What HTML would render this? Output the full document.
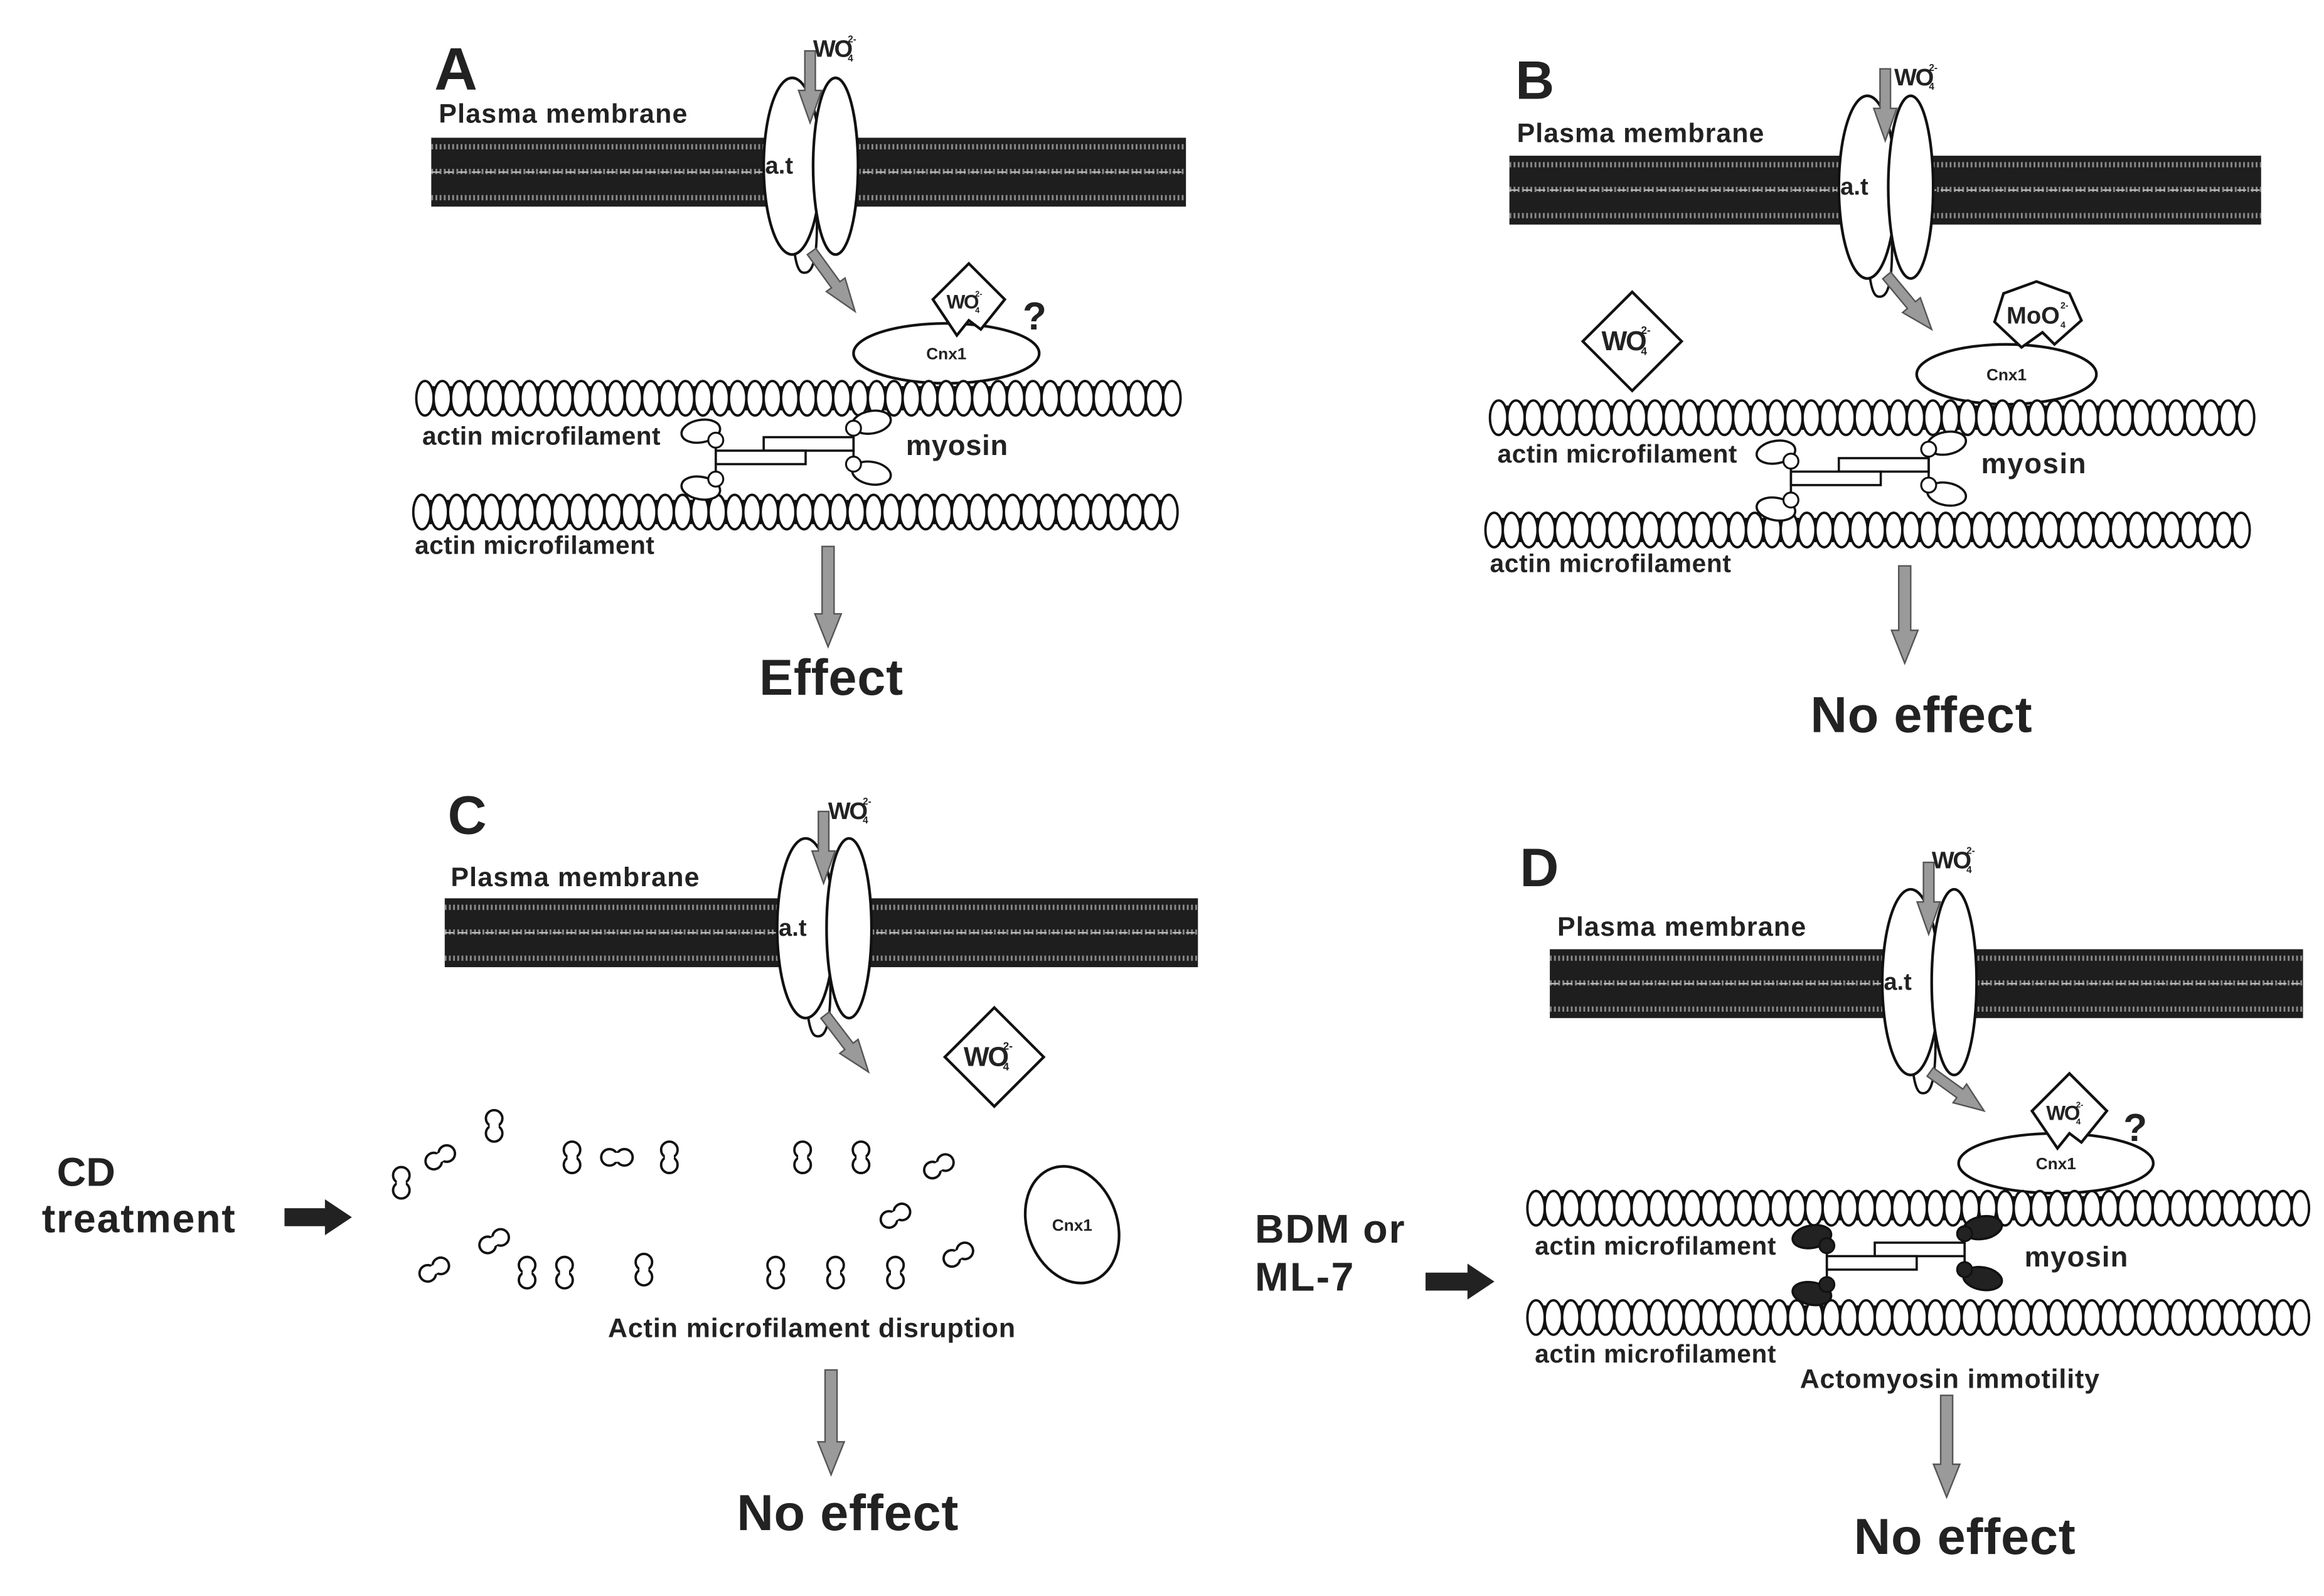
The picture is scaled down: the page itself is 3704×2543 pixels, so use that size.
<!DOCTYPE html>
<html><head><meta charset="utf-8">
<style>
html,body{margin:0;padding:0;background:#fff;}
svg{display:block;}
text{font-family:"Liberation Sans",Arial,sans-serif;font-weight:bold;fill:#222;}
</style></head>
<body>
<svg id="s" width="3704" height="2543" viewBox="0 0 1552 1066" preserveAspectRatio="none" xmlns="http://www.w3.org/2000/svg">
<rect width="1552" height="1066" fill="#fff"/>
<g id="g"></g>
<text x="290" y="60" font-size="40">A</text>
<text x="293" y="82" font-size="18" textLength="166">Plasma membrane</text>
<text x="282" y="297" font-size="17" textLength="159">actin microfilament</text>
<text x="277" y="370" font-size="17" textLength="160">actin microfilament</text>
<text x="605" y="304" font-size="19" textLength="68">myosin</text>
<text x="507" y="464" font-size="34" textLength="96">Effect</text>

<text x="1012" y="66" font-size="36">B</text>
<text x="1013" y="95" font-size="18" textLength="165">Plasma membrane</text>
<text x="1000" y="309" font-size="17" textLength="160">actin microfilament</text>
<text x="995" y="382" font-size="17" textLength="161">actin microfilament</text>
<text x="1323" y="316" font-size="19" textLength="70">myosin</text>
<text x="1209" y="489" font-size="34" textLength="148">No effect</text>

<text x="299" y="557" font-size="36">C</text>
<text x="301" y="592" font-size="18" textLength="166">Plasma membrane</text>
<text x="406" y="893" font-size="18" textLength="272">Actin microfilament disruption</text>
<text x="492" y="1022" font-size="34" textLength="148">No effect</text>
<text x="38" y="792" font-size="27">CD</text>
<text x="28" y="823" font-size="27" textLength="129">treatment</text>

<text x="1015" y="592" font-size="36">D</text>
<text x="1040" y="625" font-size="18" textLength="166">Plasma membrane</text>
<text x="1025" y="838" font-size="17" textLength="161">actin microfilament</text>
<text x="1025" y="910" font-size="17" textLength="161">actin microfilament</text>
<text x="1352" y="846" font-size="19" textLength="69">myosin</text>
<text x="1202" y="927" font-size="18" textLength="200">Actomyosin immotility</text>
<text x="1238" y="1038" font-size="34" textLength="148">No effect</text>
<text x="838" y="830" font-size="27" textLength="100">BDM or</text>
<text x="838" y="862" font-size="27" textLength="66">ML-7</text>
</svg>
<script>
var NS="http://www.w3.org/2000/svg",G=document.getElementById('g'),S=document.getElementById('s');
function el(t,a,p){var e=document.createElementNS(NS,t);for(var k in a)e.setAttribute(k,a[k]);(p||G).appendChild(e);return e;}
function txt(x,y,s,size,extra){var e=el('text',Object.assign({x:x,y:y,'font-size':size},extra||{}),S);e.textContent=s;return e;}
function membrane(x1,x2,y){
 el('rect',{x:x1,y:y,width:x2-x1,height:46,fill:'#1e1e1e'});
 [6,22.5,40].forEach(function(d){el('line',{x1:x1,x2:x2,y1:y+d,y2:y+d,stroke:'#8a8a8a','stroke-width':3.5,'stroke-dasharray':'1.2 1.6'});});
 el('line',{x1:x1,x2:x2,y1:y+23,y2:y+23,stroke:'#bbb','stroke-width':1,'stroke-dasharray':'6 3'});
}
function actin(x1,x2,y){var n=Math.round((x2-x1)/11.6);for(var i=0;i<n;i++){var cx=x1+5.8+i*11.6;el('ellipse',{cx:cx,cy:y+12,rx:5.8,ry:11.5,fill:'#fff',stroke:'#111','stroke-width':1.6});}
 for(var i=1;i<n;i++){var cx=x1+i*11.6;el('circle',{cx:cx,cy:y+5,r:1.2,fill:'#111'});el('circle',{cx:cx,cy:y+19,r:1.2,fill:'#111'});}}
function grayArrow(x1,y1,x2,y2,w){w=w||6;var dx=x2-x1,dy=y2-y1,L=Math.hypot(dx,dy),ux=dx/L,uy=dy/L,px=-uy,py=ux,h=Math.min(22,L*0.45),hw=w*1.1;
 var bx=x2-ux*h,by=y2-uy*h;
 var pts=[[x1+px*w/2,y1+py*w/2],[bx+px*w/2,by+py*w/2],[bx+px*hw,by+py*hw],[x2,y2],[bx-px*hw,by-py*hw],[bx-px*w/2,by-py*w/2],[x1-px*w/2,y1-py*w/2]];
 el('polygon',{points:pts.map(function(p){return p.join(',')}).join(' '),fill:'#9a9a9a',stroke:'#555','stroke-width':1});}
function blackArrow(x1,x2,y){el('polygon',{points:[x1,y-6,x2-18,y-6,x2-18,y-12,x2,y,x2-18,y+12,x2-18,y+6,x1,y+6].join(' '),fill:'#222'});}
function transporter(cx,top,bot,arrowEnd){var cy=(top+bot)/2,ry=(bot-top)/2;
 el('path',{d:'M'+(cx)+','+(top+10)+' C'+(cx-12)+','+(cy)+' '+(cx-14)+','+(bot+10)+' '+(cx-4)+','+(bot+12)+' C'+(cx+4)+','+(bot+14)+' '+(cx+8)+','+(bot)+' '+(cx+4)+','+(cy),fill:'#fff',stroke:'#111','stroke-width':1.6});
 el('ellipse',{cx:cx-11,cy:cy,rx:19,ry:ry,fill:'#fff',stroke:'#111','stroke-width':1.8});
 el('ellipse',{cx:cx+18,cy:cy,rx:15,ry:ry,fill:'#fff',stroke:'#111','stroke-width':1.8});
 txt(cx-29,cy+5,'a.t',16);
 grayArrow(cx+1,top-18,cx+1,top+30,7);
 grayArrow(cx+2,bot-2,arrowEnd[0],arrowEnd[1],7);
}
function wo4(x,y,s){s=s||16;txt(x,y,'WO',s,{'letter-spacing':'-1'});txt(x+s*1.45,y+3,'4',s*0.4);txt(x+s*1.45,y-s*0.6,'2-',s*0.4);}
function diamond(cx,cy,r,notch){var d='M'+(cx-r)+','+cy+' L'+cx+','+(cy-r)+' L'+(cx+r)+','+cy+' L'+cx+','+(cy+r)+' Z';
 if(notch){d='M'+(cx-8)+','+(cy+r)+' L'+(cx-r)+','+cy+' L'+cx+','+(cy-r)+' L'+(cx+r)+','+cy+' L'+(cx+8)+','+(cy+r-4)+' L'+(cx)+','+(cy+r-10)+' Z';}
 el('path',{d:d,fill:'#fff',stroke:'#111','stroke-width':1.8});wo4(cx-r*0.62,cy+6,r*0.55);}
function cnx(cx,cy,rx,ry,rot){el('ellipse',{cx:cx,cy:cy,rx:rx,ry:ry,fill:'#fff',stroke:'#111','stroke-width':1.8,transform:rot?'rotate('+rot+' '+cx+' '+cy+')':''});txt(cx,cy+4,'Cnx1',11,{'text-anchor':'middle','font-weight':'normal'});}
function myosin(x,y,black){
 var f=black?'#222':'#fff';
 el('rect',{x:x+52,y:y+14,width:60,height:9,fill:'#fff',stroke:'#111','stroke-width':1.5});
 el('rect',{x:x+20,y:y+23,width:60,height:9,fill:'#fff',stroke:'#111','stroke-width':1.5});
 el('line',{x1:x+112,y1:y+6,x2:x+112,y2:y+34,stroke:'#111','stroke-width':1.5});
 el('line',{x1:x+20,y1:y+14,x2:x+20,y2:y+44,stroke:'#111','stroke-width':1.5});
 [[x+10,y+10,-10],[x+10,y+48,10],[x+124,y+4,-10],[x+124,y+38,10]].forEach(function(h){
  el('ellipse',{cx:h[0],cy:h[1],rx:13,ry:7.5,fill:f,stroke:'#111','stroke-width':1.5,transform:'rotate('+h[2]+' '+h[0]+' '+h[1]+')'});});
 [[x+20,y+16],[x+20,y+42],[x+112,y+8],[x+112,y+32]].forEach(function(c){el('circle',{cx:c[0],cy:c[1],r:5,fill:f,stroke:'#111','stroke-width':1.3});});
}
function pair(cx,cy,rot){var g=el('g',{transform:'translate('+cx+','+cy+') rotate('+rot+')'});
 el('circle',{cx:0,cy:-5,r:5.5,fill:'#fff',stroke:'#111','stroke-width':1.6},g);el('circle',{cx:0,cy:5,r:5.5,fill:'#fff',stroke:'#111','stroke-width':1.6},g);
 el('rect',{x:-3,y:-2,width:6,height:4,fill:'#fff'},g);}

membrane(288,792,92);
transporter(540,52,170,[571,208]);
wo4(543,38,16);
cnx(632,236,62,20);
diamond(647,200,24,true);
txt(683,220,'?',26);
actin(278,792,254);
actin(276,788,330);
myosin(458,278,false);
grayArrow(553,365,553,432,8);

membrane(1008,1510,104);
transporter(1258,64,186,[1290,220]);
wo4(1265,57,16);
diamond(1090,228,33,false);
cnx(1340,250,60,20);
el('path',{d:'M1350,232 L1332,215 L1338,196 L1360,188 L1382,196 L1390,214 L1372,230 L1364,222 Z',fill:'#fff',stroke:'#111','stroke-width':1.8});
txt(1340,216,'MoO',16);txt(1376,219,'4',6);txt(1376,206,'2-',6);
actin(995,1508,267);
actin(992,1505,342);
myosin(1176,292,false);
grayArrow(1272,378,1272,443,8);

membrane(297,800,600);
transporter(549,560,680,[580,716]);
wo4(553,547,16);
diamond(664,706,33,false);
cnx(716,818,30,40,-20);
[[268,790,0],[294,773,60],[330,752,0],[382,773,0],[412,773,90],[447,773,0],[536,773,0],[575,773,0],[627,779,60],[598,812,60],[640,838,60],[330,829,60],[290,848,60],[352,850,0],[377,850,0],[430,848,0],[518,850,0],[558,850,0],[598,850,0]].forEach(function(p){pair(p[0],p[1],p[2]);});
blackArrow(190,235,813);
grayArrow(555,915,555,985,8);

membrane(1035,1538,634);
transporter(1287,594,718,[1325,742]);
wo4(1290,580,16);
cnx(1373,777,65,20);
diamond(1382,742,25,true);
txt(1418,762,'?',26);
actin(1020,1538,795);
actin(1020,1538,868);
myosin(1200,816,true);
blackArrow(952,998,856);
grayArrow(1300,932,1300,1000,8);
</script>
</body></html>
